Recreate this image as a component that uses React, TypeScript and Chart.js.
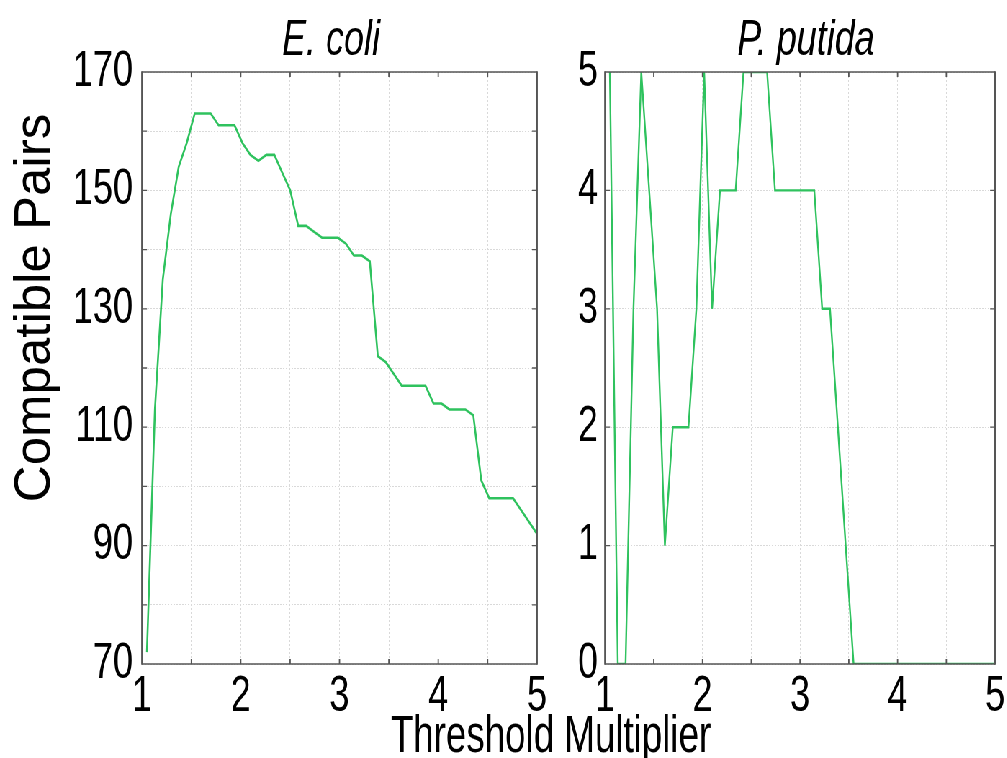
import { useEffect, useRef } from 'react';
import { Chart, registerables } from 'chart.js';

Chart.register(...registerables);

// ---------- data ----------
const thresholds = [
  1.05, 1.131, 1.211, 1.292, 1.372, 1.453, 1.534, 1.614, 1.695, 1.776,
  1.856, 1.937, 2.017, 2.098, 2.179, 2.259, 2.34, 2.42, 2.501, 2.582,
  2.662, 2.743, 2.823, 2.904, 2.985, 3.065, 3.146, 3.227, 3.307, 3.388,
  3.468, 3.549, 3.63, 3.71, 3.791, 3.871, 3.952, 4.033, 4.113, 4.194,
  4.274, 4.355, 4.436, 4.516, 4.597, 4.677, 4.758, 4.839, 4.919, 5.0,
];
const ecoliPairs = [
  72, 113, 135, 146, 154, 158, 163, 163, 163, 161,
  161, 161, 158, 156, 155, 156, 156, 153, 150, 144,
  144, 143, 142, 142, 142, 141, 139, 139, 138, 122,
  121, 119, 117, 117, 117, 117, 114, 114, 113, 113,
  113, 112, 101, 98, 98, 98, 98, 96, 94, 92,
];
const putidaPairs = [
  5, 0, 0, 3, 5, 4, 3, 1, 2, 2,
  2, 3, 5, 3, 4, 4, 4, 5, 5, 5,
  5, 4, 4, 4, 4, 4, 4, 3, 3, 2,
  1, 0, 0, 0, 0, 0, 0, 0, 0, 0,
  0, 0, 0, 0, 0, 0, 0, 0, 0, 0,
];
const xTickLabels = ['1', '2', '3', '4', '5'];
const ecoliTickLabels = ['70', '90', '110', '130', '150', '170'];
const putidaTickLabels = ['0', '1', '2', '3', '4', '5'];
const panelTitles = ['E. coli', 'P. putida'];
const yAxisTitle = 'Compatible Pairs';
const xAxisTitle = 'Threshold Multiplier';

// ---------- layout ----------
const SQ = 0.72; // horizontal squeeze of the whole figure
const W = Math.round(1007 / SQ);
const H = 758;
const px = (x: number) => x / SQ;
const TOP = 72;
const BOTTOM = 664;
const XAXIS_H = 60;
const L1 = px(142);
const R1 = px(537);
const L2 = px(605);
const R2 = px(998);
const YB_W = 100;

const GREEN = '#2fc25e';
const FONT = '"Liberation Sans", Arial, Helvetica, sans-serif';
const TICK_SIZE = 50;

const framePlugin = {
  id: 'frameTicks',
  afterDatasetsDraw(chart: any) {
    const { ctx, chartArea: a, scales } = chart;
    ctx.save();
    ctx.strokeStyle = '#555';
    ctx.setLineDash([]);
    ctx.lineWidth = 1.3 / SQ;
    scales.x.ticks.forEach((t: any) => {
      const p = scales.x.getPixelForValue(t.value);
      if (Math.abs(p - a.left) < 1 || Math.abs(p - a.right) < 1) return;
      ctx.beginPath();
      ctx.moveTo(p, a.bottom);
      ctx.lineTo(p, a.bottom - 5);
      ctx.moveTo(p, a.top);
      ctx.lineTo(p, a.top + 5);
      ctx.stroke();
    });
    ctx.lineWidth = 1.3;
    scales.y.ticks.forEach((t: any) => {
      const p = scales.y.getPixelForValue(t.value);
      if (Math.abs(p - a.top) < 1 || Math.abs(p - a.bottom) < 1) return;
      ctx.beginPath();
      ctx.moveTo(a.left, p);
      ctx.lineTo(a.left + 5 / SQ, p);
      ctx.moveTo(a.right, p);
      ctx.lineTo(a.right - 5 / SQ, p);
      ctx.stroke();
    });
    ctx.lineWidth = 1.6;
    ctx.beginPath();
    ctx.moveTo(a.left, a.top);
    ctx.lineTo(a.right, a.top);
    ctx.moveTo(a.left, a.bottom);
    ctx.lineTo(a.right, a.bottom);
    ctx.stroke();
    ctx.lineWidth = 1.6 / SQ;
    ctx.beginPath();
    ctx.moveTo(a.left, a.top - 0.8);
    ctx.lineTo(a.left, a.bottom + 0.8);
    ctx.moveTo(a.right, a.top - 0.8);
    ctx.lineTo(a.right, a.bottom + 0.8);
    ctx.stroke();
    ctx.restore();
  },
};

function makeTextPlugin(title: string, titleX: number, extra: boolean) {
  return {
    id: 'texts',
    afterDraw(chart: any) {
      const { ctx } = chart;
      ctx.save();
      ctx.fillStyle = '#000';
      ctx.textAlign = 'center';
      ctx.textBaseline = 'alphabetic';
      ctx.font = `italic 50px ${FONT}`;
      ctx.fillText(title, px(titleX), 55);
      if (extra) {
        ctx.font = `51px ${FONT}`;
        ctx.fillText(xAxisTitle, px(551), 752);
        ctx.save();
        ctx.translate(px(50), 308);
        ctx.rotate(-Math.PI / 2);
        ctx.scale(1, 1 / SQ);
        ctx.font = `51px ${FONT}`;
        ctx.fillText(yAxisTitle, 0, 0);
        ctx.restore();
      }
      ctx.restore();
    },
  };
}

function xScale(labels: string[]) {
  return {
    type: 'linear',
    min: 1,
    max: 5,
    afterFit: (s: any) => {
      s.height = XAXIS_H;
    },
    ticks: {
      stepSize: 0.5,
      autoSkip: false,
      maxRotation: 0,
      padding: 3,
      color: '#000',
      font: { family: FONT, size: TICK_SIZE },
      callback: (v: any) => (Number.isInteger(v) ? labels[v - 1] : ''),
    },
    grid: { color: '#d9d9d9', lineWidth: 1, drawTicks: false },
    border: { display: false, dash: [2, 2] },
  };
}

function baseOptions(padding: any, xs: any, ys: any, plugins: any) {
  return {
    type: 'line',
    plugins,
    options: {
      responsive: false,
      animation: false,
      events: [],
      layout: { padding },
      plugins: { legend: { display: false }, title: { display: false }, tooltip: { enabled: false } },
      scales: { x: xs, y: ys },
    },
  };
}

function App() {
  const refA = useRef<HTMLCanvasElement>(null);
  const refB = useRef<HTMLCanvasElement>(null);

  useEffect(() => {
    const ecoliData = thresholds.map((t, i) => ({ x: t, y: ecoliPairs[i] }));
    const putidaData = thresholds.map((t, i) => ({ x: t, y: putidaPairs[i] }));

    const cfgA: any = baseOptions(
      { left: 0, right: W - R1, top: TOP, bottom: H - BOTTOM - XAXIS_H },
      xScale(xTickLabels),
      {
        type: 'linear',
        min: 70,
        max: 170,
        afterFit: (s: any) => {
          s.width = L1;
        },
        ticks: {
          stepSize: 10,
          autoSkip: false,
          padding: px(9),
          color: '#000',
          font: { family: FONT, size: TICK_SIZE },
          callback: (v: any) => {
            const idx = (v - 70) / 20;
            return Number.isInteger(idx) ? ecoliTickLabels[idx] : '';
          },
        },
        grid: { color: '#d9d9d9', lineWidth: 1, drawTicks: false },
        border: { display: false, dash: [2, 2] },
      },
      [framePlugin, makeTextPlugin(panelTitles[0], 331, true)]
    );
    cfgA.data = {
      datasets: [
        {
          data: ecoliData,
          borderColor: GREEN,
          borderWidth: 2.6,
          pointRadius: 0,
          tension: 0,
          fill: false,
        },
      ],
    };

    const cfgB: any = baseOptions(
      { left: L2 - YB_W, right: W - R2, top: TOP, bottom: H - BOTTOM - XAXIS_H },
      xScale(xTickLabels),
      {
        type: 'linear',
        min: 0,
        max: 5,
        afterFit: (s: any) => {
          s.width = YB_W;
        },
        ticks: {
          stepSize: 1,
          autoSkip: false,
          padding: px(7),
          color: '#000',
          font: { family: FONT, size: TICK_SIZE },
          callback: (v: any) => (Number.isInteger(v) ? putidaTickLabels[v] : ''),
        },
        grid: { color: '#d9d9d9', lineWidth: 1, drawTicks: false },
        border: { display: false, dash: [2, 2] },
      },
      [framePlugin, makeTextPlugin(panelTitles[1], 806, false)]
    );
    cfgB.data = {
      datasets: [
        {
          data: putidaData,
          borderColor: GREEN,
          borderWidth: 2.4,
          pointRadius: 0,
          tension: 0,
          fill: false,
        },
      ],
    };

    const a = new Chart(refA.current as HTMLCanvasElement, cfgA);
    const b = new Chart(refB.current as HTMLCanvasElement, cfgB);
    return () => {
      a.destroy();
      b.destroy();
    };
  }, []);

  return (
    <div
      style={{
        position: 'fixed',
        left: 0,
        top: 0,
        width: 1007,
        height: H,
        overflow: 'hidden',
        background: '#fff',
      }}
    >
      <div
        style={{
          position: 'absolute',
          left: 0,
          top: 0,
          width: W,
          height: H,
          transform: `scaleX(${SQ})`,
          transformOrigin: '0 0',
        }}
      >
        <canvas ref={refA} width={W} height={H} style={{ position: 'absolute', left: 0, top: 0 }} />
        <canvas ref={refB} width={W} height={H} style={{ position: 'absolute', left: 0, top: 0 }} />
      </div>
    </div>
  );
}

export default App;
